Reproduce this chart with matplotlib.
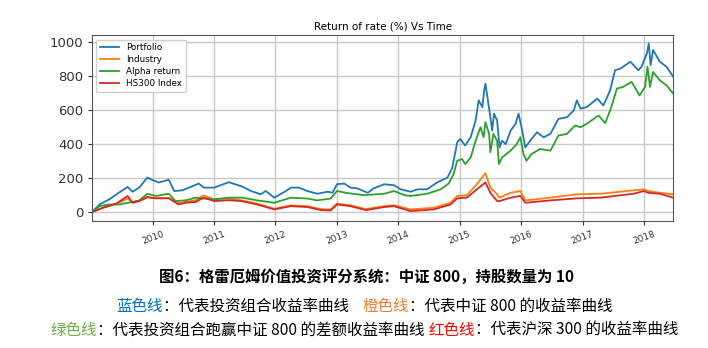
import numpy as np
import pandas as pd
import matplotlib
matplotlib.use("Agg")
import matplotlib.pyplot as plt
import matplotlib.dates as mdates

# Cumulative returns (%), sampled along time (decimal years)
port_t = [2009.01, 2009.13, 2009.29, 2009.45, 2009.59, 2009.67, 2009.78, 2009.91, 2010.0,
          2010.1, 2010.26, 2010.35, 2010.48, 2010.59, 2010.75, 2010.83, 2011.0, 2011.24,
          2011.46, 2011.6, 2011.76, 2011.84, 2011.98, 2012.17, 2012.25, 2012.38, 2012.52,
          2012.68, 2012.85, 2012.93, 2013.0, 2013.12, 2013.22, 2013.33, 2013.5, 2013.6,
          2013.77, 2013.93, 2014.04, 2014.2, 2014.31, 2014.47, 2014.63, 2014.8, 2014.88,
          2014.96, 2015.01, 2015.09, 2015.18, 2015.26, 2015.31, 2015.37, 2015.4, 2015.42,
          2015.46, 2015.5, 2015.53, 2015.56, 2015.61, 2015.65, 2015.69, 2015.75, 2015.83,
          2015.91, 2015.96, 2016.02, 2016.07, 2016.15, 2016.26, 2016.37, 2016.48, 2016.61,
          2016.75, 2016.86, 2016.91, 2016.97, 2017.07, 2017.24, 2017.34, 2017.45, 2017.53,
          2017.62, 2017.78, 2017.91, 2017.96, 2018.05, 2018.08, 2018.11, 2018.15, 2018.26,
          2018.37, 2018.48]
portfolio = [0, 45, 75, 115, 148, 120, 144, 203, 188,
             174, 190, 124, 128, 144, 168, 144, 144, 176,
             150, 124, 105, 124, 85, 124, 144, 144, 124,
             108, 120, 114, 164, 168, 144, 140, 114, 140,
             164, 158, 134, 120, 134, 134, 174, 203, 262,
             410, 430, 391, 440, 539, 657, 617, 716, 755,
             657, 558, 479, 578, 539, 380, 420, 400, 479,
             519, 578, 479, 380, 420, 469, 440, 460, 548,
             558, 598, 657, 608, 617, 667, 627, 716, 834,
             844, 884, 834, 854, 933, 992, 864, 953, 884,
             854, 795]

alpha_t = [2009.01, 2009.13, 2009.29, 2009.45, 2009.6, 2009.78, 2009.91, 2010.05, 2010.26,
           2010.37, 2010.53, 2010.7, 2010.83, 2011.0, 2011.24, 2011.46, 2011.7, 2011.98,
           2012.25, 2012.52, 2012.68, 2012.9, 2013.0, 2013.17, 2013.44, 2013.77, 2013.93,
           2014.1, 2014.2, 2014.47, 2014.69, 2014.82, 2014.9, 2014.96, 2015.04, 2015.09,
           2015.18, 2015.26, 2015.34, 2015.39, 2015.42, 2015.48, 2015.5, 2015.55, 2015.61,
           2015.64, 2015.69, 2015.83, 2015.93, 2015.99, 2016.04, 2016.09, 2016.17, 2016.31,
           2016.48, 2016.61, 2016.75, 2016.88, 2016.97, 2017.07, 2017.26, 2017.37, 2017.47,
           2017.56, 2017.66, 2017.8, 2017.93, 2018.02, 2018.06, 2018.1, 2018.15, 2018.26,
           2018.37, 2018.48]
alpha = [0, 35, 45, 45, 55, 69, 108, 95, 108,
         65, 69, 85, 80, 75, 85, 85, 69, 55,
         85, 80, 69, 80, 124, 112, 100, 108, 124,
         100, 95, 108, 134, 168, 223, 302, 312, 282,
         321, 420, 499, 440, 529, 460, 351, 460, 420,
         282, 321, 361, 400, 440, 341, 302, 341, 371,
         361, 450, 460, 509, 499, 519, 568, 523, 617,
         726, 736, 765, 686, 736, 854, 736, 824, 775,
         745, 696]

index_t = [2009.01, 2009.18, 2009.4, 2009.59, 2009.67, 2009.78, 2009.91, 2010.05, 2010.26,
           2010.42, 2010.53, 2010.7, 2010.83, 2011.0, 2011.24, 2011.44, 2011.7, 2011.98,
           2012.25, 2012.52, 2012.74, 2012.9, 2013.0, 2013.22, 2013.47, 2013.77, 2013.93,
           2014.2, 2014.58, 2014.85, 2014.96, 2015.12, 2015.28, 2015.42, 2015.5, 2015.61,
           2015.65, 2015.83, 2015.99, 2016.07, 2016.48, 2016.91, 2017.29, 2017.83, 2018.0,
           2018.07, 2018.26, 2018.48]
industry = [0, 25, 47, 80, 58, 66, 86, 82, 84,
            52, 60, 70, 98, 75, 80, 70, 50, 20,
            40, 35, 18, 15, 50, 40, 18, 35, 41,
            16, 26, 55, 95, 100, 164, 229, 144, 105,
            85, 114, 124, 69, 85, 105, 108, 128, 134,
            124, 114, 105]
hs300 = [0, 25, 49, 95, 55, 65, 89, 81, 81,
         45, 55, 60, 85, 65, 70, 65, 45, 16,
         35, 30, 12, 10, 45, 35, 12, 30, 35,
         6, 16, 45, 81, 85, 134, 174, 114, 65,
         65, 85, 95, 55, 69, 81, 85, 108, 124,
         114, 108, 85]

caption_title = "图6：格雷厄姆价值投资评分系统：中证 800，持股数量为 10"
caption_line1 = [("蓝色线", "#0070C0"), ("：代表投资组合收益率曲线    ", "black"),
                 ("橙色线", "#ED7D31"), ("：代表中证 800 的收益率曲线", "black")]
caption_line2 = [("绿色线", "#70AD47"), ("：代表投资组合跑赢中证 800 的差额收益率曲线 ", "black"),
                 ("红色线", "#FF0000"), ("：代表沪深 300 的收益率曲线", "black")]


def to_dates(years):
    years = np.asarray(years, dtype=float)
    base = pd.to_datetime(np.floor(years).astype(int).astype(str) + "-01-01")
    return base + pd.to_timedelta((years - np.floor(years)) * 365.25, unit="D")


fig = plt.figure(figsize=(7.08, 3.48), dpi=100)
ax = fig.add_axes([0.130, 0.365, 0.821, 0.534])

ax.plot(to_dates(port_t), portfolio, color="#1f77b4", lw=1.3, label="Portfolio")
ax.plot(to_dates(index_t), industry, color="#ff7f0e", lw=1.3, label="Industry")
ax.plot(to_dates(alpha_t), alpha, color="#2ca02c", lw=1.3, label="Alpha return")
ax.plot(to_dates(index_t), hs300, color="#d62728", lw=1.3, label="HS300 Index")

ax.set_xlim(to_dates([2009.01])[0], to_dates([2018.48])[0])
ax.set_ylim(-52, 1040)
ax.set_yticks([0, 200, 400, 600, 800, 1000])
ax.xaxis.set_major_locator(mdates.YearLocator())
ax.xaxis.set_major_formatter(mdates.DateFormatter("%Y"))
ax.grid(True, color="#c8c8c8", lw=1.0)
ax.set_axisbelow(True)
for s in ax.spines.values():
    s.set_color("#555555")
ax.tick_params(axis="y", labelsize=9.5, colors="#333333", length=3)
ax.tick_params(axis="x", labelsize=6.5, colors="#333333", length=3)
for lab in ax.get_xticklabels():
    lab.set_rotation(20)
    lab.set_ha("center")
ax.set_title("Return of rate (%) Vs Time", fontsize=7.5, pad=4)
ax.legend(loc="upper left", fontsize=6.3, handlelength=2.2, framealpha=0.9,
          borderpad=0.4, labelspacing=0.35, edgecolor="#cccccc")

cjk = ["Noto Sans CJK SC", "DejaVu Sans"]
cx = 0.515  # caption block sits a little right of the figure centre
fig.text(cx + 0.003, 1 - 277 / 348, caption_title, ha="center", va="center",
         fontsize=11.1, fontweight="bold", family=cjk)

renderer = fig.canvas.get_renderer()


def colored_line(parts, y, size):
    # lay the pieces out left to right, then shift the whole row to centre it
    texts = []
    x = 0.0
    for s, c in parts:
        t = fig.text(x, y, s, color=c, fontsize=size, family=cjk, va="center", ha="left")
        w = t.get_window_extent(renderer).width / fig.bbox.width
        texts.append((t, x))
        x += w
    off = cx - x / 2
    for t, x0 in texts:
        t.set_x(x0 + off)


colored_line(caption_line1, 1 - 306 / 348, 11.2)
colored_line(caption_line2, 1 - 330 / 348, 11.2)

fig.savefig("out.png", dpi=100)
